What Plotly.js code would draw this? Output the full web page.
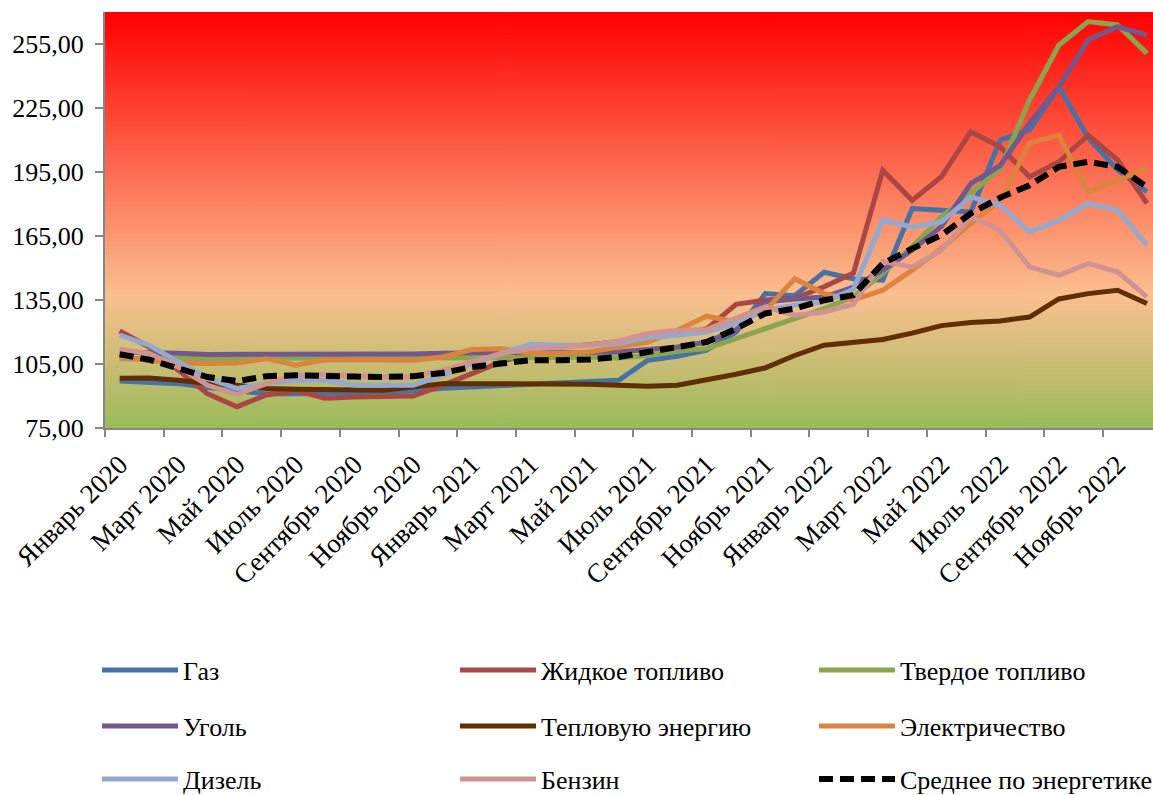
<!DOCTYPE html>
<html>
<head>
<meta charset="utf-8">
<script src="https://cdn.plot.ly/plotly-3.0.1.min.js"></script>
<style>
html,body{margin:0;padding:0;background:#ffffff;}
#chart{width:1153px;height:795px;}
</style>
</head>
<body>
<div id="chart"></div>
<script>
// ---- categories (months) ----
const months = [
  "Январь 2020","Февраль 2020","Март 2020","Апрель 2020","Май 2020","Июнь 2020",
  "Июль 2020","Август 2020","Сентябрь 2020","Октябрь 2020","Ноябрь 2020","Декабрь 2020",
  "Январь 2021","Февраль 2021","Март 2021","Апрель 2021","Май 2021","Июнь 2021",
  "Июль 2021","Август 2021","Сентябрь 2021","Октябрь 2021","Ноябрь 2021","Декабрь 2021",
  "Январь 2022","Февраль 2022","Март 2022","Апрель 2022","Май 2022","Июнь 2022",
  "Июль 2022","Август 2022","Сентябрь 2022","Октябрь 2022","Ноябрь 2022","Декабрь 2022"
];

// ---- series values ----
const gas = [97, 96.6, 95.8, 94, 92.5, 91, 91, 91, 91.5, 92, 92.4, 93.6,
  94.2, 95, 95.5, 95.8, 96.6, 97.4, 106.8, 108.6, 111.5, 120, 138, 137,
  148, 145, 144.3, 177.9, 177.1, 176.3, 210, 214.7, 235, 211, 196, 185.7];
const liquidFuel = [120.5, 113, 102, 91, 85, 90.5, 92.5, 89, 89.5, 89.5, 90, 95,
  100.5, 106, 110, 113, 114, 115.3, 117, 119, 121.5, 133, 135, 135.8,
  141.2, 147.6, 195.8, 181.7, 192.8, 213.9, 206.8, 192.7, 199.8, 212.3, 200.6, 180.3];
const solidFuel = [107.5, 107.5, 107.5, 107.5, 107.5, 107.5, 107.5, 107.5, 107.5, 107.5, 107.5, 107.5,
  107.5, 107.8, 108, 108, 108.3, 107.8, 109, 111, 112.2, 117, 121.6, 126.3,
  131, 136.5, 147.5, 160, 174, 185, 196.5, 228.7, 254.5, 265.5, 263.9, 250.6];
const coal = [110.5, 110.4, 110, 109.5, 109.5, 109.3, 109.3, 109.3, 109.5, 109.5, 109.7, 110,
  110.3, 110.6, 110.5, 110.3, 110.3, 110.6, 111.8, 113, 115.3, 121, 134, 135.5,
  136.4, 141, 149, 158.4, 169.5, 189.6, 198, 217.8, 235, 256.9, 263.1, 259.2];
const heat = [98.3, 98.4, 97.4, 95.8, 95, 93.5, 93.2, 93, 92.7, 92.7, 94.2, 95.8,
  95.8, 95.8, 96, 96, 95.5, 95, 94.6, 95, 97.4, 100.2, 103.2, 109,
  113.8, 114.9, 116.5, 119.5, 123, 124.5, 125.2, 127, 135.5, 138, 139.6, 133.4];
const electricity = [108, 107, 105.5, 105.2, 105.5, 107.5, 104.4, 107, 106.8, 106.5, 106.8, 108.3,
  111.8, 112.2, 109.9, 109.9, 110.6, 113, 115.3, 120.8, 127.4, 124.7, 130, 145,
  138, 135, 139.6, 149, 159.1, 170.9, 181.7, 208.5, 212.3, 185.7, 191.2, 196.7];
const diesel = [118.5, 113.8, 106, 98.2, 93.5, 95.8, 97.4, 97.4, 95, 95, 95, 99.7,
  105.2, 109.9, 114.3, 113.8, 113.8, 114.6, 117.4, 118.5, 120, 124, 130.2, 132.6,
  134.1, 140, 172.4, 169.3, 171.6, 183.3, 179.5, 166.9, 172.4, 180.3, 177.1, 160.7];
const petrol = [111.8, 109.9, 103.6, 95, 90.8, 95.8, 99.7, 100.2, 99.5, 98.9, 99, 102.1,
  106, 109.9, 112.2, 112.7, 113.8, 115.8, 119.3, 120.8, 121.2, 126.3, 131.8, 127.9,
  129.4, 133, 153, 150.5, 158.4, 174, 167.7, 150.5, 146.6, 152.1, 148.2, 136.5];
const energyAverage = [109.6, 107, 102.9, 98.9, 97, 99.3, 99.7, 99.7, 99.1, 98.9, 99.3, 100.8,
  103.6, 105.2, 106.8, 106.8, 107.1, 108.3, 110.6, 112.7, 115.3, 121.6, 128.7, 131,
  134.9, 137.3, 152.1, 159.1, 165.4, 175.6, 183, 188.8, 197.4, 199.8, 197.4, 188];

const seriesNames = ["Газ","Жидкое топливо","Твердое топливо","Уголь","Тепловую энергию",
  "Электричество","Дизель","Бензин","Среднее по энергетике"];
const seriesValues = [gas, liquidFuel, solidFuel, coal, heat, electricity, diesel, petrol, energyAverage];

// y-axis tick values
const yTicks = [75, 105, 135, 165, 195, 225, 255];

// ---- styles ----
const seriesColors = ["#4572A7","#AA4643","#89A54E","#71588F","#612E00",
  "#DB843D","#93A9CF","#D19392","#000000"];
const FONT = "'Liberation Serif', 'Times New Roman', serif";
const W = 1153, H = 795;
const M = {l:105, r:0, t:12, b:367};
const plotW = W - M.l - M.r, plotH = H - M.t - M.b;
const catPx = 29.35;

// legend grid: 3 columns x 3 rows (pixel positions of each legend box)
const legendColX = [97, 455, 814];
const legendRowY = [670, 726, 779];

// vertical gradient background for plot area
function gradientURL(){
  const c = document.createElement('canvas');
  c.width = 4; c.height = plotH;
  const g = c.getContext('2d');
  const lg = g.createLinearGradient(0,0,0,plotH);
  lg.addColorStop(0, '#FF0000');
  lg.addColorStop(0.68, '#FAC090');
  lg.addColorStop(1, '#9BBB59');
  g.fillStyle = lg; g.fillRect(0,0,4,plotH);
  return c.toDataURL('image/png');
}

function legendId(i){ return i === 0 ? 'legend' : 'legend' + (i + 1); }

const traces = seriesValues.map((vals, i) => {
  const isAvg = i === 8;
  return {
    type: 'scatter', mode: 'lines',
    x: months, y: vals, name: seriesNames[i],
    legend: legendId(i),
    line: {color: seriesColors[i], width: isAvg ? 6 : 5, dash: isAvg ? '14px,7px' : 'solid'},
    hoverinfo: 'x+y+name'
  };
});

function cellLegend(i){
  const col = i % 3, row = Math.floor(i / 3);
  return {
    orientation: 'v',
    x: (legendColX[col] - M.l) / plotW, xanchor: 'left',
    y: (H - M.b - legendRowY[row]) / plotH, yanchor: 'middle',
    itemwidth: 76,
    bgcolor: 'rgba(0,0,0,0)',
    borderwidth: 0,
    font: {family: FONT, size: 26, color: '#000000'}
  };
}

const layout = {
  width: W, height: H,
  margin: {l: M.l, r: M.r, t: M.t, b: M.b, autoexpand: false},
  paper_bgcolor: '#ffffff',
  plot_bgcolor: '#ffffff',
  separators: ', ',
  font: {family: FONT, size: 26, color: '#000000'},
  showlegend: true,
  xaxis: {
    type: 'category',
    categoryorder: 'array', categoryarray: months,
    range: [-0.5, -0.5 + plotW / catPx],
    tickmode: 'linear', tick0: 0, dtick: 2,
    tickson: 'boundaries',
    ticks: 'outside', ticklen: 7, tickwidth: 2, tickcolor: '#868686',
    showline: true, linecolor: '#868686', linewidth: 2,
    showgrid: false, zeroline: false,
    tickangle: -45,
    ticklabelstandoff: 8,
    tickfont: {family: FONT, size: 27, color: '#000000'},
    fixedrange: true
  },
  yaxis: {
    range: [75, 270],
    tickmode: 'array', tickvals: yTicks,
    tickformat: '.2f',
    ticks: 'outside', ticklen: 8, tickwidth: 2, tickcolor: '#868686',
    showline: true, linecolor: '#868686', linewidth: 2,
    showgrid: false, zeroline: false,
    ticklabelstandoff: 6,
    tickfont: {family: FONT, size: 26, color: '#000000'},
    fixedrange: true
  },
  images: [{
    source: gradientURL(),
    xref: 'paper', yref: 'paper', x: 0, y: 1, sizex: 1, sizey: 1,
    xanchor: 'left', yanchor: 'top', sizing: 'stretch', layer: 'below'
  }]
};
for (let i = 0; i < seriesNames.length; i++) layout[legendId(i)] = cellLegend(i);

Plotly.newPlot('chart', traces, layout, {displayModeBar: false, staticPlot: true});
</script>
</body>
</html>
